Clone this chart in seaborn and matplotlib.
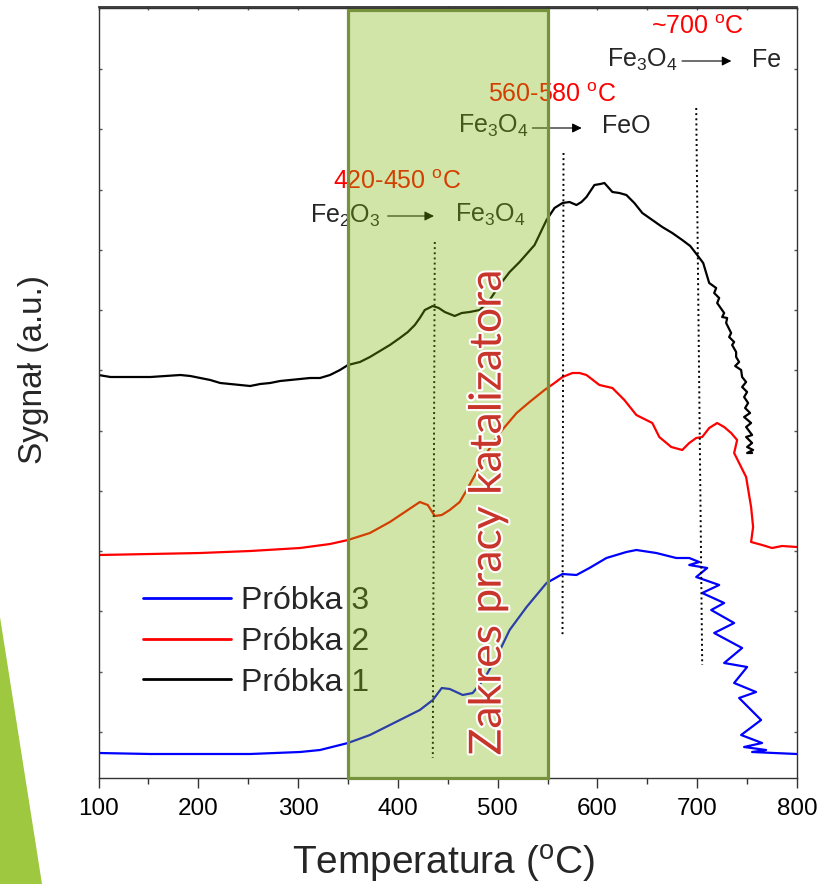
import numpy as np
import pandas as pd
import matplotlib
matplotlib.use("Agg")
import matplotlib.pyplot as plt
import seaborn as sns
from matplotlib.patches import Rectangle, Polygon
from matplotlib.lines import Line2D
import matplotlib.patheffects as pe

# ---------------- data ----------------
t1 = [100,112,122,137,152,167,182,192,202,212,222,232,242,252,262,272,282,292,302,312,
      322,332,342,350,362,372,382,392,402,410,417,422,427,435,441,447,457,464,472,482,
      492,502,512,522,537,549,557,565,572,579,584,589,597,603,607,615,622,629,637,645,
      655,665,675,685,693,700,706,712,719,717,722,720,727,725,730,729,734,732,737,735,
      739,739,742,738,744,745,749,745,750,747,751,748,753,747,754,749,755,749,755,750,
      756,750,755]
s1 = [403,401,401,401,401,402,403,402,400,398,395,394,393,392,394,395,397,398,399,400,
      400,403,408,413,416,421,427,433,440,446,453,460,468,472,470,466,462,465,466,468,
      478,493,506,516,533,558,570,575,576,573,576,581,593,594,595,586,585,583,575,565,
      558,551,545,538,532,523,515,495,490,485,480,475,465,461,460,455,445,441,436,433,
      426,421,416,412,408,401,396,391,386,381,375,370,365,361,355,351,343,341,335,331,
      328,325,325]

t2 = [100,152,202,252,302,332,350,372,392,407,422,430,437,444,452,462,469,480,489,502,
      519,532,547,557,565,575,582,589,602,615,627,639,655,662,674,685,692,699,705,712,
      720,727,734,740,737,749,754,756,754,765,775,785,800]
s2 = [223,224,225,227,230,234,238,245,256,266,276,273,262,263,268,276,288,308,325,345,
      365,376,388,395,401,405,405,403,393,390,378,363,355,341,331,328,335,340,341,350,
      355,351,345,338,325,301,271,251,236,233,230,232,231]

t3 = [100,152,202,252,302,322,350,372,402,422,435,444,452,465,475,487,499,512,529,549,
      565,579,592,609,629,639,659,679,692,702,692,710,699,722,705,727,714,737,717,745,
      727,750,737,759,742,764,744,765,747,769,755,777,800]
s3 = [25,24,24,24,26,28,35,43,58,68,78,90,89,83,85,100,121,148,171,195,
      204,203,210,220,226,228,225,220,220,216,213,210,201,193,185,175,168,155,145,130,
      115,111,95,86,80,58,43,35,31,28,26,25,24]

labels = ["Próbka 1", "Próbka 2", "Próbka 3"]
colors = {"Próbka 1": "black", "Próbka 2": "#FF0000", "Próbka 3": "#0000FF"}

xticks = [100, 200, 300, 400, 500, 600, 700, 800]
yticks = [46, 106, 167, 227, 287, 347, 408, 468, 528, 588, 649, 709]

range_lo, range_hi = 350, 550
dot_t = [(437, 435), (566, 565), (699, 705)]
dot_s = [(536, 20), (625, 141), (670, 113)]

# ---------------- style ----------------
sns.set_theme(style="ticks")
plt.rcParams['font.family'] = ['Liberation Sans', 'DejaVu Sans']
plt.rcParams['mathtext.fontset'] = 'custom'
plt.rcParams['mathtext.rm'] = 'Liberation Sans'
plt.rcParams['mathtext.it'] = 'Liberation Sans:italic'
plt.rcParams['mathtext.bf'] = 'Liberation Sans:bold'

W, H = 821, 884
fig = plt.figure(figsize=(W / 100, H / 100), dpi=100)
ax = fig.add_axes([98.5 / W, 1 - 778 / H, (797 - 98.5) / W, (778 - 7.5) / H])

df = pd.concat([
    pd.DataFrame({"T": t1, "S": s1, "Próbka": labels[0]}),
    pd.DataFrame({"T": t2, "S": s2, "Próbka": labels[1]}),
    pd.DataFrame({"T": t3, "S": s3, "Próbka": labels[2]}),
], ignore_index=True)

sns.lineplot(data=df, x="T", y="S", hue="Próbka", palette=colors, sort=False,
             estimator=None, linewidth=1.6, ax=ax, legend=False, zorder=2)

# dotted vertical markers
for tt, ss in zip(dot_t, dot_s):
    ax.plot(tt, ss, color="black", linestyle=":", linewidth=1.4, zorder=2.5)

ax.set_xlim(100, 800)
ax.set_ylim(0, 770.5)
ax.set_xticks(xticks)
ax.set_xticks(np.arange(150, 800, 100), minor=True)
ax.set_yticks(yticks)
ax.set_yticklabels([])
ax.tick_params(axis="x", which="major", direction="out", length=7.5, width=1,
               labelsize=17.5, pad=7, colors="#333333", labelcolor="black")
ax.tick_params(axis="x", which="minor", direction="out", length=4.5, width=1,
               colors="#333333")
ax.tick_params(axis="y", left=True, right=True, direction="in", length=2.5,
               width=1, colors="#555555")
for sp in ax.spines.values():
    sp.set_visible(True)
    sp.set_linewidth(1.0)
    sp.set_color("#333333")

top = ax.secondary_xaxis("top")
top.set_xticks(np.arange(100, 801, 50))
top.tick_params(direction="in", length=2.5, width=1, labeltop=False, colors="#555555")
top.set_xticklabels([])

ax.set_xlabel(r"Temperatura ($^{\rm o}$C)", fontsize=28, va="center")
ax.xaxis.set_label_coords((444 - 98.5) / 698.5, (778 - 864) / 770.5)
ax.set_ylabel("Sygnał (a.u.)", fontsize=24, va="center")
ax.yaxis.set_label_coords((34 - 98.5) / 698.5, (778 - 370) / 770.5)

# legend (order 3, 2, 1)
handles = [Line2D([], [], color=colors[l], lw=2) for l in labels[::-1]]
ax.legend(handles, labels[::-1], loc="center left",
          bbox_to_anchor=(143 / W, 1 - 642 / H), bbox_transform=fig.transFigure,
          frameon=False, fontsize=23, handlelength=2.75, handletextpad=0.32,
          labelspacing=0.33, borderpad=0, borderaxespad=0)

# annotations
red = "#FF0000"
fs = 18
ax.text(335, 596, r"420-450 $^{\rm o}$C", color=red, fontsize=fs, va="center", ha="left")
ax.text(312, 555, r"Fe$_{\rm 2}$O$_{\rm 3}$", fontsize=fs, va="baseline", ha="left")
ax.text(457, 556, r"Fe$_{\rm 3}$O$_{\rm 4}$", fontsize=fs, va="baseline", ha="left")
ax.annotate("", xy=(439, 562), xytext=(387, 562),
            arrowprops=dict(arrowstyle="-|>", lw=0.8, color="black", mutation_scale=14))

ax.text(490, 683, r"560-580 $^{\rm o}$C", color=red, fontsize=fs, va="center", ha="left")
ax.text(460, 645, r"Fe$_{\rm 3}$O$_{\rm 4}$", fontsize=fs, va="baseline", ha="left")
ax.text(605, 645, "FeO", fontsize=fs, va="baseline", ha="left")
ax.annotate("", xy=(587, 650), xytext=(532, 650),
            arrowprops=dict(arrowstyle="-|>", lw=0.8, color="black", mutation_scale=14))

ax.text(654, 751, r"~700 $^{\rm o}$C", color=red, fontsize=fs, va="center", ha="left")
ax.text(610, 711, r"Fe$_{\rm 3}$O$_{\rm 4}$", fontsize=fs, va="baseline", ha="left")
ax.text(755, 711, "Fe", fontsize=fs, va="baseline", ha="left")
ax.annotate("", xy=(737, 717), xytext=(682, 717),
            arrowprops=dict(arrowstyle="-|>", lw=0.8, color="black", mutation_scale=14))

# catalyst working range box
rect = Rectangle((range_lo, 0), range_hi - range_lo, 768,
                 facecolor=(126 / 255, 183 / 255, 6 / 255, 0.35),
                 edgecolor="#76923C", linewidth=2.3, zorder=6, clip_on=False)
ax.add_patch(rect)
ax.text(490.5, 266, "Zakres pracy katalizatora", rotation=90, color="#C8352A",
        fontsize=32, family=["Lato", "DejaVu Sans"], ha="center", va="center", zorder=7,
        path_effects=[pe.withStroke(linewidth=3, foreground="white")])

# slide decoration
fig.patches.append(Polygon([(0, 1 - 617 / H), (0, 0), (42 / W, 0)], closed=True,
                           transform=fig.transFigure, facecolor="#9DC83F",
                           edgecolor="none"))

fig.savefig("out.png", dpi=100)
